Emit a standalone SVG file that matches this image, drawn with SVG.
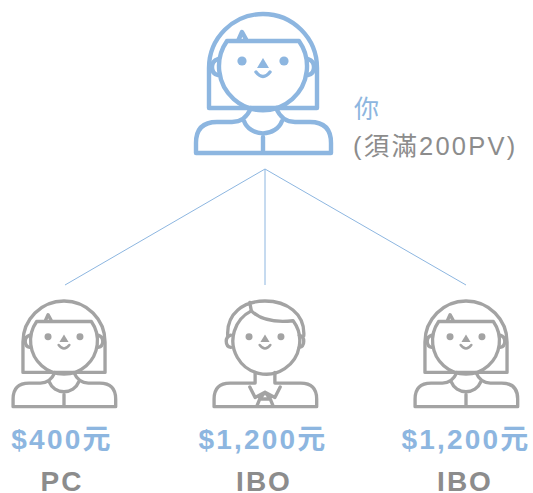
<svg xmlns="http://www.w3.org/2000/svg" width="533" height="493" viewBox="0 0 533 493">
<style>
.ln{fill:none;stroke:currentColor;stroke-width:4.4;stroke-linejoin:round;stroke-linecap:round}
.dot{fill:currentColor;stroke:none}
.blue{color:#8db6e0}.grey{color:#a3a3a3}
.conn{stroke:#8db6e0;stroke-width:1;fill:none}
text{font-family:"Liberation Sans","Noto Sans CJK TC",sans-serif}
.price{font-size:28px;font-weight:bold;fill:#8db6e0;letter-spacing:2.2px;text-anchor:middle}
.role{font-size:28px;font-weight:bold;fill:#8c8c8c;letter-spacing:2px;text-anchor:middle}
</style>
<defs>
<g id="features">
<circle class="dot" cx="242" cy="61" r="4.6"/><circle class="dot" cx="284" cy="61" r="4.6"/>
<path class="dot" d="M263 58l6 10h-12z"/>
<path class="ln" style="stroke-width:3.4" d="M256 72q7 9 14 0"/>
<path class="ln" d="M218 59Q212 61 212 67Q212 74 218 75M308 59Q314 61 314 67Q314 74 308 75"/>
</g>
<g id="woman">
<use href="#features"/>
<path class="ln" d="M227 41A44 44 0 1 0 299 41ZM227 41H238L242 32L247 41"/>
<path class="ln" d="M209 108V68A54 54 0 0 1 317 68V108H209"/>
<path class="ln" d="M196 153V143Q196 122 217 122H232Q245 122 251 108M331 153V143Q331 122 310 122H295Q282 122 276 108M196 153H331M244 121A20 18 0 0 0 282 121M263 137V153"/>
</g>
</defs>
<g id="connectors">
<path class="conn" d="M265 169L65 285M265 169V285M265 169L466 285"/>
</g>
<g id="you" class="blue"><use href="#woman"/></g>
<g id="you-label">
<text x="354" y="118" font-size="25" fill="#8db6e0">你</text>
<text x="353" y="155" font-size="25.5" letter-spacing="2.2" fill="#8c8c8c">(須滿200PV)</text>
</g>
<g id="pc" class="grey">
<use href="#woman" transform="translate(64 301) scale(.76) translate(-263 -14)"/>
<text class="price" x="62" y="449">$400元</text>
<text class="role" x="62" y="491">PC</text>
</g>
<g id="ibo1" class="grey">
<g transform="translate(265 301) scale(.76) translate(-263 -14)">
<use href="#features"/>
<path class="ln" d="M245 27A44 44 0 1 0 300 40Q262 44 245 27"/>
<path class="ln" d="M214 60C212 30 235 14 263 14C291 14 316 30 314 60M243 16L245 27"/>
<path class="ln" d="M196 153V143Q196 122 217 122H250V108M331 153V143Q331 122 310 122H276V108M243 127L250 141L263 134L276 141L283 127M263 134L256 143H270ZM256 143L252 153M270 143L274 153M196 153H331"/>
</g>
<text class="price" x="263" y="449">$1,200元</text>
<text class="role" x="264" y="491">IBO</text>
</g>
<g id="ibo2" class="grey">
<use href="#woman" transform="translate(466 301) scale(.76) translate(-263 -14)"/>
<text class="price" x="466" y="449">$1,200元</text>
<text class="role" x="465" y="491">IBO</text>
</g>
</svg>
